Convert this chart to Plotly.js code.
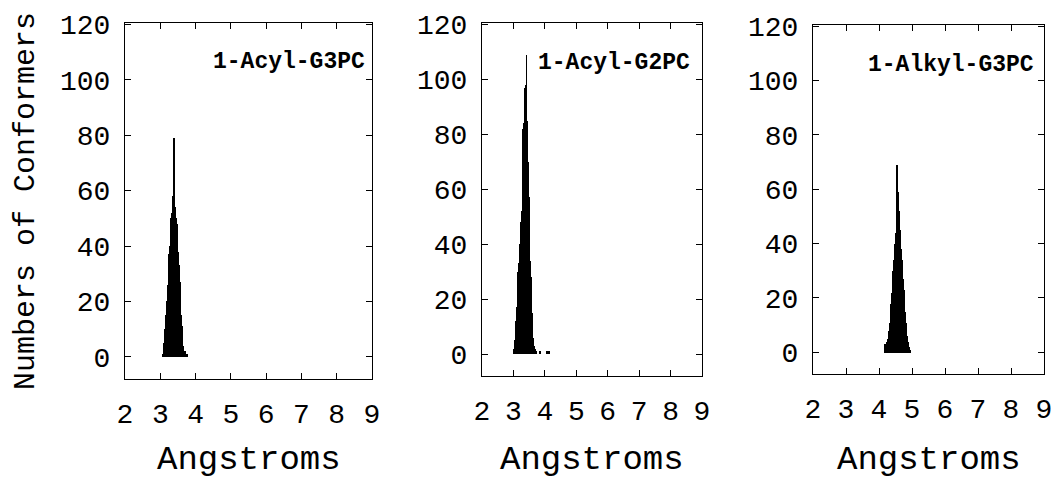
<!DOCTYPE html>
<html>
<head>
<meta charset="utf-8">
<script src="https://cdn.plot.ly/plotly-3.0.1.min.js"></script>
<style>html,body{margin:0;padding:0;background:#fff;}#chart{width:1052px;height:479px;}</style>
</head>
<body>
<div id="chart"></div>
<script>
// Bin centres (Angstroms), bin width 0.02
var binWidth = 0.02;

var acylG3PC_x = [3.07,3.09,3.11,3.13,3.15,3.17,3.19,3.21,3.23,3.25,3.27,3.29,3.31,3.33,3.35,3.37,3.39,3.41,3.43,3.45,3.47,3.49,3.51,3.53,3.55,3.57,3.59,3.61,3.63,3.65,3.67,3.69,3.71,3.73,3.75,3.77];
var acylG3PC_y = [1,3,5,10,12,15,20,26,36,37,40,45,50,52,55,58,79,54,53,50,48,44,38,33,27,20,15,11,7,4,2,2,2,1,1,1];

var acylG2PC_x = [3.01,3.03,3.05,3.07,3.09,3.11,3.13,3.15,3.17,3.19,3.21,3.23,3.25,3.27,3.29,3.31,3.33,3.35,3.37,3.39,3.41,3.43,3.45,3.47,3.49,3.51,3.53,3.55,3.57,3.59,3.61,3.63,3.65,3.67,3.69,3.71,3.73,3.85,4.07,4.13];
var acylG2PC_y = [2,3,5,8,12,17,29,30,33,36,40,42,48,52,60,82,84,90,97,98,109,85,84,70,57,45,34,28,20,15,8,6,3,2,2,1,1,1,1,1];

var alkylG3PC_x = [4.19,4.21,4.23,4.25,4.27,4.29,4.31,4.33,4.35,4.37,4.39,4.41,4.43,4.45,4.47,4.49,4.51,4.53,4.55,4.57,4.59,4.61,4.63,4.65,4.67,4.69,4.71,4.73,4.75,4.77,4.79,4.81,4.83,4.85,4.87,4.89,4.91,4.93,4.95];
var alkylG3PC_y = [3,3,3,4,5,6,8,11,14,18,22,26,30,34,36,40,44,48,69,59,58,52,45,43,38,34,31,27,23,19,15,11,8,6,4,3,2,1,1];

var panelLabels = ['1-Acyl-G3PC', '1-Acyl-G2PC', '1-Alkyl-G3PC'];
var xTickVals = [2,3,4,5,6,7,8,9];
var yTickVals = [0,20,40,60,80,100,120];
var xTitle = 'Angstroms';
var yTitle = 'Numbers of Conformers';

var W = 1052, H = 479;
var monoFont = 'Liberation Mono, Courier New, monospace';

function barTrace(x, y, xa, ya) {
  return {
    type: 'bar', x: x, y: y, width: binWidth,
    xaxis: xa, yaxis: ya,
    marker: {color: '#000', line: {width: 0}},
    hoverinfo: 'x+y', showlegend: false
  };
}

var data = [
  barTrace(acylG3PC_x, acylG3PC_y, 'x', 'y'),
  barTrace(acylG2PC_x, acylG2PC_y, 'x2', 'y2'),
  barTrace(alkylG3PC_x, alkylG3PC_y, 'x3', 'y3')
];

function xAxis(d0, d1, anchor) {
  return {
    domain: [d0 / W, d1 / W], anchor: anchor, range: [2, 9],
    tickvals: xTickVals, ticks: 'inside', ticklen: 6, tickwidth: 1, tickcolor: '#000',
    showline: true, linecolor: '#000', linewidth: 1, mirror: 'ticks',
    showgrid: false, zeroline: false, ticklabelstandoff: 9, ticklabeloverflow: 'allow',
    tickfont: {family: monoFont, size: 28, color: '#000'}
  };
}
function yAxis(top, bottom, anchor) {
  return {
    domain: [1 - bottom / H, 1 - top / H], anchor: anchor, range: [-8, 120.5],
    tickvals: yTickVals, ticks: 'inside', ticklen: 6, tickwidth: 1, tickcolor: '#000',
    showline: true, linecolor: '#000', linewidth: 1, mirror: 'ticks',
    showgrid: false, zeroline: false, ticklabelstandoff: 8, ticklabeloverflow: 'allow',
    tickfont: {family: monoFont, size: 28, color: '#000'}
  };
}

function ann(text, px, py, size, bold, angle) {
  return {
    xref: 'paper', yref: 'paper', x: px / W, y: 1 - py / H,
    xanchor: 'center', yanchor: 'middle', showarrow: false,
    text: bold ? '<b>' + text + '</b>' : text, textangle: angle || 0,
    font: {family: monoFont, size: size, color: '#000'}
  };
}

var layout = {
  width: W, height: H,
  margin: {l: 0, r: 0, t: 0, b: 0},
  paper_bgcolor: '#fff', plot_bgcolor: '#fff',
  bargap: 0, showlegend: false,
  xaxis: xAxis(125, 372, 'y'),
  xaxis2: xAxis(482, 702, 'y2'),
  xaxis3: xAxis(813, 1044, 'y3'),
  yaxis: yAxis(23, 379, 'x'),
  yaxis2: yAxis(23, 376, 'x2'),
  yaxis3: yAxis(24.7, 374, 'x3'),
  annotations: [
    ann(panelLabels[0], 289, 62, 23, true),
    ann(panelLabels[1], 614, 63, 23, true),
    ann(panelLabels[2], 951, 65, 23, true),
    ann(xTitle, 248.5, 460, 34, false),
    ann(xTitle, 592, 460, 34, false),
    ann(xTitle, 928.5, 460, 34, false),
    ann(yTitle, 26, 201, 30, false, -90)
  ]
};

Plotly.newPlot('chart', data, layout, {displayModeBar: false});
</script>
</body>
</html>
